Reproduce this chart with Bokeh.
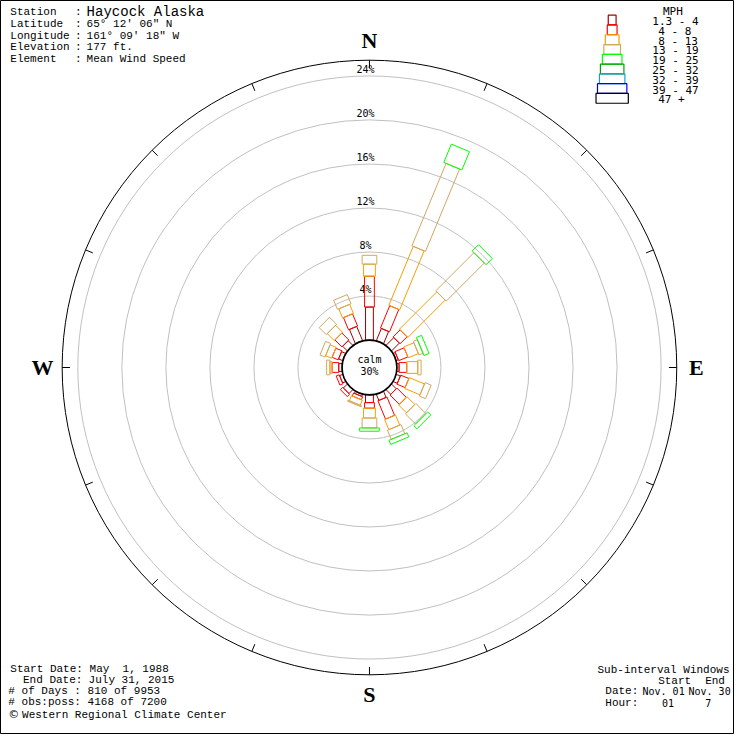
import numpy as np
from bokeh.plotting import figure
from bokeh.models import Range1d
from bokeh.embed import file_html
from bokeh.resources import INLINE
from bokeh.core.properties import value

# ---------------- data ----------------
directions_deg = [0.0, 22.5, 45.0, 67.5, 90.0, 112.5, 135.0, 157.5,
                  180.0, 202.5, 225.0, 247.5, 270.0, 292.5, 315.0, 337.5]
speed_classes = ["1.3 - 4", "4 - 8", "8 - 13", "13 - 19", "19 - 25",
                 "25 - 32", "32 - 39", "39 - 47", "47 +"]
pct_1_4   = [3.0, 1.2, 1.0, 0.2, 0.2, 0.4, 0.6, 0.6, 0.7, 0.2, 0.5, 0.3, 0.3, 0.4, 0.6, 1.4]
pct_4_8   = [2.8, 2.2, 0.9, 0.9, 0.7, 0.8, 1.2, 1.8, 0.5, 0.3, 0.3, 0.3, 0.6, 0.6, 0.9, 1.2]
pct_8_13  = [1.1, 5.8, 4.8, 1.0, 1.0, 1.5, 1.0, 1.0, 0.9, 0.5, 0.0, 0.0, 0.2, 0.6, 0.9, 0.9]
pct_13_19 = [0.8, 8.1, 4.9, 0.4, 0.3, 0.6, 1.3, 0.9, 0.9, 0.1, 0.0, 0.0, 0.3, 0.5, 0.9, 0.9]
pct_19_25 = [0.0, 1.8, 0.8, 0.5, 0.0, 0.0, 0.4, 0.4, 0.3, 0.0, 0.0, 0.0, 0.0, 0.0, 0.0, 0.0]
pct_25_32 = [0.0, 0.0, 0.0, 0.0, 0.0, 0.0, 0.0, 0.0, 0.0, 0.0, 0.0, 0.0, 0.0, 0.0, 0.0, 0.0]
pct_32_39 = [0.0, 0.0, 0.0, 0.0, 0.0, 0.0, 0.0, 0.0, 0.0, 0.0, 0.0, 0.0, 0.0, 0.0, 0.0, 0.0]
pct_39_47 = [0.0, 0.0, 0.0, 0.0, 0.0, 0.0, 0.0, 0.0, 0.0, 0.0, 0.0, 0.0, 0.0, 0.0, 0.0, 0.0]
pct_47_up = [0.0, 0.0, 0.0, 0.0, 0.0, 0.0, 0.0, 0.0, 0.0, 0.0, 0.0, 0.0, 0.0, 0.0, 0.0, 0.0]
calm_pct = 30
ring_pcts = [4, 8, 12, 16, 20, 24]
compass_labels = ["N", "E", "S", "W"]
compass_deg = [0, 90, 180, 270]

header_keys = ["Station", "Latitude", "Longitude", "Elevation", "Element"]
header_vals = ["Haycock Alaska", "65\u00b0 12' 06\" N", "161\u00b0 09' 18\" W",
               "177 ft.", "Mean Wind Speed"]
footer_keys = ["Start Date:", "End Date:", "# of Days :", "# obs:poss:"]
footer_vals = ["May\u00a0\u00a01, 1988", "July 31, 2015", "810 of 9953", "4168 of 7200"]
credit = "Western Regional Climate Center"

# ---------------- style / geometry ----------------
class_colors = ["#A00000", "#FF0000", "#F5A000", "#D0A860", "#00FF00",
                "#00A000", "#10A0E0", "#0000FF", "#000000"]
bar_widths = [8, 10, 12, 15, 20, 23, 26, 29, 33]
legend_widths = [8, 10, 14, 17, 20, 24, 26, 30, 33]
CX, CY = 377, 375          # centre (y measured upward)
R0 = 28                    # calm circle radius
K = 11.25                  # pixels per percent
R_OUT = 314
MONO = value("Liberation Mono")
SMONO = value("DejaVu Sans Mono")

def Y(ypix):
    return 750 - ypix

p = figure(width=734, height=734, x_range=Range1d(0, 750), y_range=Range1d(0, 750),
           output_backend="svg", toolbar_location=None, min_border=0,
           x_axis_type=None, y_axis_type=None)
p.grid.visible = False
p.outline_line_color = "black"
p.background_fill_color = "white"
p.border_fill_color = "white"

# rings
ring_r = [R0 + K * v for v in ring_pcts]
p.circle(x=[CX] * len(ring_r), y=[CY] * len(ring_r), radius=ring_r,
         fill_color=None, line_color="#C0C0C0", line_width=1)
# outer circle
p.circle(x=[CX], y=[CY], radius=[R_OUT], fill_color=None, line_color="black", line_width=1)
# ticks
th = np.radians(np.arange(0, 360, 22.5))
p.segment(x0=CX + (R_OUT - 8) * np.sin(th), y0=CY + (R_OUT - 8) * np.cos(th),
          x1=CX + R_OUT * np.sin(th), y1=CY + R_OUT * np.cos(th),
          line_color="black", line_width=1)

# ring labels
p.text(x=[373] * len(ring_pcts), y=[CY + R0 + K * v + 7 for v in ring_pcts],
       text=[f"{v}%" for v in ring_pcts], text_font=SMONO, text_font_size="10px",
       text_align="center", text_baseline="middle", text_color="black")

# bars
series = [pct_1_4, pct_4_8, pct_8_13, pct_13_19, pct_19_25,
          pct_25_32, pct_32_39, pct_39_47, pct_47_up]
xs, ys, cols = [], [], []
for i, d in enumerate(directions_deg):
    t = np.radians(d)
    u = np.array([np.sin(t), np.cos(t)])
    v = np.array([np.cos(t), -np.sin(t)])
    cum = 0.0
    for k, s in enumerate(series):
        val = s[i]
        if val <= 0:
            continue
        ra = R0 + K * cum
        rb = R0 + K * (cum + val)
        h = bar_widths[k] / 2
        pts = [ra * u - h * v, rb * u - h * v, rb * u + h * v, ra * u + h * v]
        xs.append([CX + q[0] for q in pts])
        ys.append([CY + q[1] for q in pts])
        cols.append(class_colors[k])
        cum += val
p.patches(xs=xs, ys=ys, fill_color=None, line_color=cols, line_width=1)

# calm circle
p.circle(x=[CX], y=[CY], radius=[R0], fill_color="white", line_color="black", line_width=1.6)
p.text(x=[CX, CX], y=[Y(367), Y(379)], text=["calm", f"{calm_pct}%"], text_font=SMONO,
       text_font_size="10px", text_align="center", text_baseline="middle")

# compass letters
cr = 334
p.text(x=[CX + cr * np.sin(np.radians(a)) for a in compass_deg],
       y=[CY + cr * np.cos(np.radians(a)) for a in compass_deg],
       text=compass_labels, text_font=value("Liberation Serif"), text_font_size="22px",
       text_font_style="bold", text_align="center", text_baseline="middle", text_color="black")

# header
hy = [Y(12 + 12 * i) for i in range(len(header_keys))]
p.text(x=[10] * len(header_keys), y=hy, text=header_keys, text_font=MONO,
       text_font_size="11px", text_baseline="middle", text_align="left")
p.text(x=[76] * len(header_keys), y=hy, text=[":"] * len(header_keys), text_font=MONO,
       text_font_size="11px", text_baseline="middle", text_align="left")
p.text(x=[88], y=[Y(12)], text=header_vals[:1], text_font=MONO, text_font_size="14px",
       text_baseline="middle", text_align="left")
p.text(x=[88] * 4, y=hy[1:], text=header_vals[1:],
       text_font=MONO, text_font_size="11px", text_baseline="middle", text_align="left")

# legend
n = len(speed_classes)
p.rect(x=[625] * n, y=[Y(20 + 10 * i) for i in range(n)], width=legend_widths[:n],
       height=[10] * n, fill_color=None, line_color=class_colors[:n], line_width=1.2)
p.text(x=[687], y=[Y(11)], text=["MPH"], text_font=SMONO, text_font_size="11px",
       text_align="center", text_baseline="middle")
p.text(x=[666 if len(s) == 7 else 672 for s in speed_classes],
       y=[Y(21.5 + 10 * i) for i in range(n)], text=speed_classes, text_font=SMONO,
       text_font_size="11px", text_align="left", text_baseline="middle")

# footer left
fy = [Y(683), Y(694), Y(706), Y(717)]
p.text(x=[10, 23, 8, 8], y=fy, text=footer_keys,
       text_font=MONO, text_font_size="11px", text_align="left", text_baseline="middle")
p.text(x=[91, 90, 89, 89], y=fy, text=footer_vals,
       text_font=MONO, text_font_size="11px", text_align="left", text_baseline="middle")
p.text(x=[8], y=[Y(730)], text=["\u00a9"], text_font=value("DejaVu Sans"),
       text_font_size="11px", text_align="left", text_baseline="middle")
p.text(x=[22], y=[Y(730)], text=[credit], text_font=MONO, text_font_size="11px",
       text_align="left", text_baseline="middle")

# footer right
p.text(x=[610, 672, 720, 618, 618], y=[Y(684), Y(695), Y(695), Y(706), Y(718)],
       text=["Sub-interval Windows", "Start", "End", "Date:", "Hour:"],
       text_font=MONO, text_font_size="11px", text_align="left", text_baseline="middle")
p.text(x=[656, 703, 676, 720], y=[Y(706), Y(706), Y(718), Y(718)],
       text=["Nov. 01", "Nov. 30", "01", "7"], text_font=SMONO, text_font_size="10px",
       text_align="left", text_baseline="middle")

open("out.html", "w").write(file_html(p, INLINE))
